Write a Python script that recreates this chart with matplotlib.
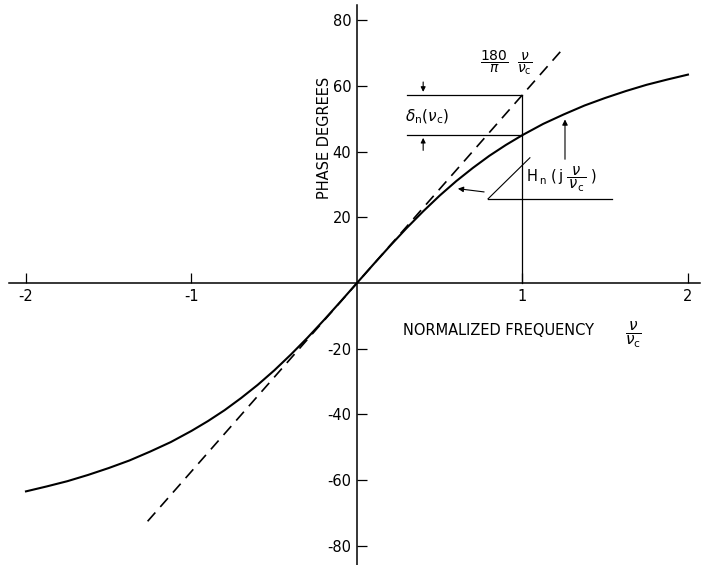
import matplotlib
matplotlib.use("Agg")
import matplotlib.pyplot as plt

# phase curve (degrees)
freq = [-2.0, -1.875, -1.75, -1.625, -1.5, -1.375, -1.25, -1.125, -1.0, -0.9, -0.8,
        -0.7, -0.6, -0.5, -0.4, -0.3, -0.2, -0.1, 0.0,
        0.1, 0.2, 0.3, 0.4, 0.5, 0.6, 0.7, 0.8, 0.9, 1.0,
        1.125, 1.25, 1.375, 1.5, 1.625, 1.75, 1.875, 2.0]
phase = [-63.4, -61.9, -60.3, -58.4, -56.3, -54.0, -51.3, -48.4, -45.0, -42.0, -38.7,
         -35.0, -31.0, -26.6, -21.8, -16.7, -11.3, -5.7, 0.0,
         5.7, 11.3, 16.7, 21.8, 26.6, 31.0, 35.0, 38.7, 42.0, 45.0,
         48.4, 51.3, 54.0, 56.3, 58.4, 60.3, 61.9, 63.4]

# linear asymptote 180/pi * nu/nu_c, end points
lin_x = [-1.265, 1.24]
lin_y = [-72.5, 71.0]

xticks = [-2, -1, 1, 2]
xlabels = ["-2", "-1", "1", "2"]
yticks = [80, 60, 40, 20, -20, -40, -60, -80]
ylabels = ["80", "60", "40", "20", "-20", "-40", "-60", "-80"]

fig = plt.figure(figsize=(7.05, 5.65), dpi=100)
ax = fig.add_axes([0, 0, 1, 1])
ax.set_xlim(-2.157, 2.103)
ax.set_ylim(-85.8, 86.1)

for s in ["top", "right"]:
    ax.spines[s].set_visible(False)
ax.spines["left"].set_position(("data", 0))
ax.spines["bottom"].set_position(("data", 0))
ax.spines["left"].set_bounds(-86, 84.5)
ax.spines["bottom"].set_bounds(-2.10, 2.07)
ax.spines["left"].set_linewidth(1.1)
ax.spines["bottom"].set_linewidth(1.1)

ax.set_xticks(xticks)
ax.set_xticklabels(xlabels)
ax.set_yticks(yticks)
ax.set_yticklabels(ylabels)
ax.tick_params(axis="both", direction="in", length=7, width=0.9, labelsize=10.5, pad=4)

ax.plot(freq, phase, color="black", lw=1.5)
ax.plot(lin_x, lin_y, color="black", lw=1.2, dashes=(7, 4.5))

# construction lines at nu = nu_c
ax.plot([1, 1], [0, 57.3], color="black", lw=0.9)
ax.plot([0.30, 1], [57.3, 57.3], color="black", lw=0.9)
ax.plot([0.30, 1], [45, 45], color="black", lw=0.9)

# dimension arrows for delta_n
ax.annotate("", xy=(0.40, 57.3), xytext=(0.40, 62),
            arrowprops=dict(arrowstyle="-|>", color="black", lw=0.8,
                            mutation_scale=7))
ax.annotate("", xy=(0.40, 45), xytext=(0.40, 39.5),
            arrowprops=dict(arrowstyle="-|>", color="black", lw=0.8,
                            mutation_scale=7))
ax.text(0.42, 50.5, r"$\delta_{\mathrm{n}}(\nu_{\mathrm{c}})$", ha="center",
        va="center", fontsize=11)

# label for asymptote
ax.text(0.90, 67, r"$\dfrac{180}{\pi}\ \ \dfrac{\nu}{\nu_{\mathrm{c}}}$", ha="center",
        va="center", fontsize=10)

# H_n label with leader
ax.plot([0.792, 1.541], [25.6, 25.6], color="black", lw=0.9)
ax.plot([0.792, 1.045], [25.6, 38.1], color="black", lw=0.8)
ax.annotate("", xy=(0.593, 28.8), xytext=(0.785, 27.6),
            arrowprops=dict(arrowstyle="-|>", color="black", lw=0.8,
                            mutation_scale=8))
ax.annotate("", xy=(1.257, 50.6), xytext=(1.257, 36.8),
            arrowprops=dict(arrowstyle="-|>", color="black", lw=0.8,
                            mutation_scale=8))
ax.text(1.02, 31.5,
        r"$\mathrm{H}_{\;\mathrm{n}}\;(\,\mathrm{j}\;\dfrac{\ \nu\ }{\nu_{\mathrm{c}}}\;)$",
        ha="left", va="center", fontsize=10.5)

# axis titles
ax.text(0.28, -14.5, "NORMALIZED FREQUENCY", ha="left", va="center", fontsize=10.5)
ax.text(1.67, -16, r"$\dfrac{\nu}{\nu_{\mathrm{c}}}$", ha="center", va="center",
        fontsize=11)
ax.text(-0.195, 44, "PHASE DEGREES", rotation=90, ha="center", va="center",
        fontsize=10.5)

fig.savefig("out.png", dpi=100)
